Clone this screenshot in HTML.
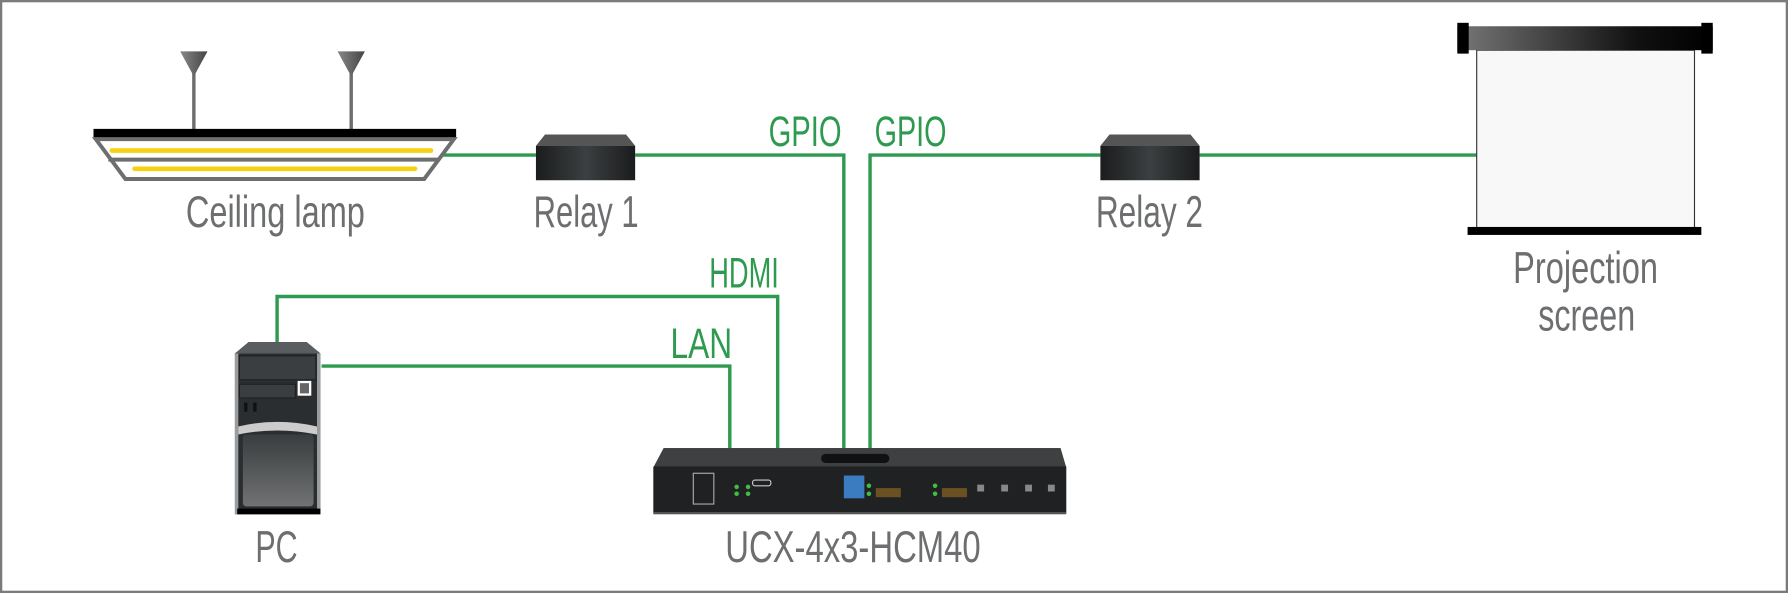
<!DOCTYPE html>
<html><head><meta charset="utf-8"><style>
html,body{margin:0;padding:0;background:#fff;}
svg{display:block;}
text{font-family:"Liberation Sans",sans-serif;fill:#6d6e70;}
.g{fill:#2e9a4f;}
</style></head><body>
<svg width="1788" height="593" viewBox="0 0 1568 520" xmlns="http://www.w3.org/2000/svg">
<defs>
<linearGradient id="blk" x1="0" x2="1"><stop offset="0" stop-color="#1a1c1d"/><stop offset="0.5" stop-color="#3c3f41"/><stop offset="1" stop-color="#1a1c1d"/></linearGradient>
<linearGradient id="bar" x1="0" x2="1"><stop offset="0" stop-color="#777"/><stop offset="0.7" stop-color="#111"/><stop offset="1" stop-color="#000"/></linearGradient>
<linearGradient id="tri" x1="0" x2="1"><stop offset="0" stop-color="#888"/><stop offset="1" stop-color="#444"/></linearGradient>
<linearGradient id="pcb" x1="0" y1="0" x2="0" y2="1"><stop offset="0" stop-color="#3a3d3f"/><stop offset="1" stop-color="#707273"/></linearGradient>
</defs>
<rect x="1" y="1" width="1566" height="518" fill="#fff" stroke="#7a7a7a" stroke-width="2"/>
<g fill="none" stroke="#2e9a4f" stroke-width="3">
<path d="M385 136H470M557 136H740V393"/>
<path d="M763 393V136H965M1052 136H1295"/>
<path d="M243 300V260H682V393"/>
<path d="M282 321H640V393"/>
</g>
<rect x="168.5" y="60" width="3" height="55" fill="#6d6e70"/>
<rect x="306.5" y="60" width="3" height="55" fill="#6d6e70"/>
<polygon points="158,45 182,45 170,67" fill="url(#tri)"/>
<polygon points="296,45 320,45 308,67" fill="url(#tri)"/>
<rect x="82" y="113" width="318" height="8" fill="#000"/>
<polygon points="84,122 398,122 372,157 110,157" fill="#fff" stroke="#6d6e70" stroke-width="3.5"/>
<line x1="95" y1="140" x2="385" y2="140" stroke="#6d6e70" stroke-width="3.5"/>
<line x1="98" y1="132" x2="378" y2="132" stroke="#f5d10f" stroke-width="4" stroke-linecap="round"/>
<line x1="118" y1="148" x2="364" y2="148" stroke="#f5d10f" stroke-width="4" stroke-linecap="round"/>
<polygon points="478,118 549,118 557,128 557,158 470,158 470,128" fill="url(#blk)"/>
<polygon points="478,118 549,118 557,128 470,128" fill="#555"/>
<polygon points="973,118 1044,118 1052,128 1052,158 965,158 965,128" fill="url(#blk)"/>
<polygon points="973,118 1044,118 1052,128 965,128" fill="#555"/>
<rect x="1295" y="44" width="191" height="156" fill="#f8f8f8" stroke="#333" stroke-width="1"/>
<rect x="1278" y="23" width="224" height="21" fill="url(#bar)"/>
<rect x="1278" y="20" width="10" height="27" fill="#000"/>
<rect x="1492" y="20" width="10" height="27" fill="#000"/>
<rect x="1287" y="199" width="205" height="7" fill="#000"/>
<polygon points="218,300 269,300 281,310 281,451 206,451 206,310" fill="#2b2e30"/>
<polygon points="218,300 269,300 281,310 206,310" fill="#5a5d5f"/>
<rect x="206" y="310" width="3" height="141" fill="#9a9c9d"/>
<rect x="278" y="310" width="3" height="141" fill="#9a9c9d"/>
<rect x="210" y="312" width="67" height="21" fill="#3b3e40" stroke="#1f2122"/>
<rect x="210" y="337" width="49" height="12" fill="#3b3e40" stroke="#1f2122"/>
<rect x="262" y="335" width="10" height="11" fill="#666" stroke="#fff" stroke-width="2"/>
<rect x="214" y="353" width="3" height="8" fill="#111"/><rect x="222" y="353" width="3" height="8" fill="#111"/>
<path d="M209 374Q243 366 278 374V381Q243 374 209 381Z" fill="#ccc"/>
<rect x="213" y="381" width="62" height="63" rx="3" fill="url(#pcb)"/>
<rect x="208" y="446" width="73" height="5" fill="#000"/>
<polygon points="582,393 930,393 935,410 935,450 573,450 573,410" fill="#2a2c2d"/>
<polygon points="582,393 930,393 935,410 573,410" fill="#3e4042"/>
<rect x="573" y="409" width="362" height="41" fill="#1f2122"/>
<rect x="720" y="398" width="60" height="8" rx="4" fill="#111"/>
<rect x="608" y="415" width="18" height="27" fill="none" stroke="#aaa"/>
<rect x="660" y="421" width="16" height="5" rx="2" fill="none" stroke="#ccc"/>
<rect x="740" y="417" width="18" height="20" fill="#3b7bbf"/>
<rect x="768" y="428" width="22" height="8" fill="#6a5023"/>
<rect x="826" y="428" width="22" height="8" fill="#6a5023"/>
<g fill="#44bb44"><circle cx="646" cy="427" r="2"/><circle cx="656" cy="427" r="2"/><circle cx="646" cy="433" r="2"/><circle cx="656" cy="433" r="2"/><circle cx="762" cy="426" r="2"/><circle cx="762" cy="433" r="2"/><circle cx="820" cy="426" r="2"/><circle cx="820" cy="433" r="2"/></g>
<g fill="#888"><rect x="857" y="425" width="6" height="6"/><rect x="878" y="425" width="6" height="6"/><rect x="899" y="425" width="6" height="6"/><rect x="919" y="425" width="6" height="6"/></g>
<rect x="573" y="449" width="362" height="2" fill="#555"/>
<g font-size="39">
<text x="163" y="199" textLength="157" lengthAdjust="spacingAndGlyphs">Ceiling lamp</text>
<text x="468" y="199" textLength="92" lengthAdjust="spacingAndGlyphs">Relay 1</text>
<text x="961" y="199" textLength="94" lengthAdjust="spacingAndGlyphs">Relay 2</text>
<text x="1327" y="248" textLength="127" lengthAdjust="spacingAndGlyphs">Projection</text>
<text x="1349" y="290" textLength="85" lengthAdjust="spacingAndGlyphs">screen</text>
<text x="224" y="493" textLength="37" lengthAdjust="spacingAndGlyphs">PC</text>
<text x="636" y="493" textLength="224" lengthAdjust="spacingAndGlyphs">UCX-4x3-HCM40</text>
</g>
<g font-size="37">
<text class="g" x="674" y="128" textLength="64" lengthAdjust="spacingAndGlyphs">GPIO</text>
<text class="g" x="767" y="128" textLength="63" lengthAdjust="spacingAndGlyphs">GPIO</text>
<text class="g" x="622" y="252" textLength="61" lengthAdjust="spacingAndGlyphs">HDMI</text>
<text class="g" x="588" y="314" textLength="54" lengthAdjust="spacingAndGlyphs">LAN</text>
</g>
</svg>
</body></html>
